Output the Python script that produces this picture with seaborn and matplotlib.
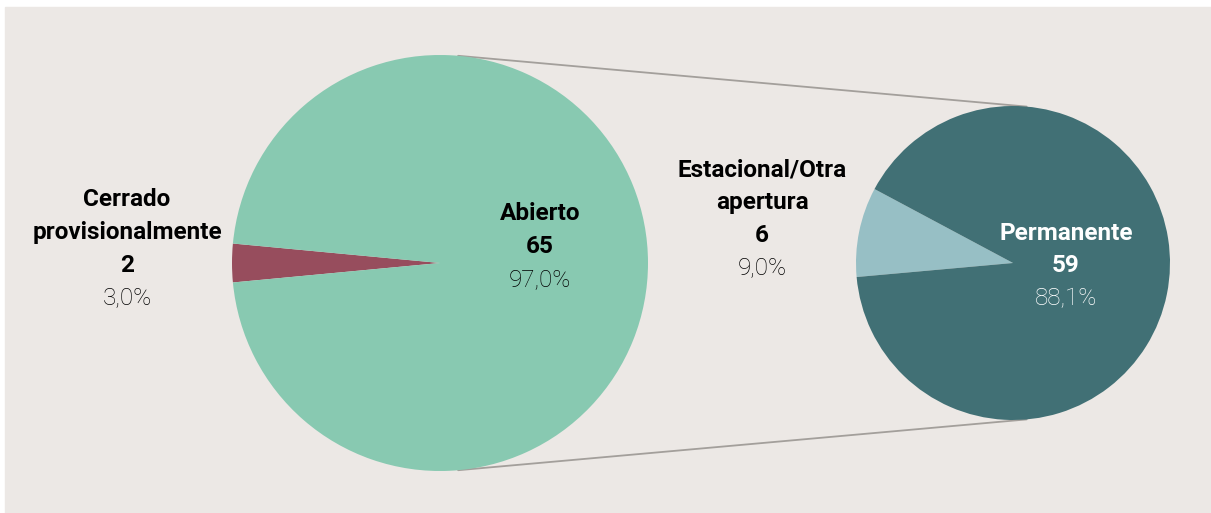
import matplotlib
matplotlib.use("Agg")
import matplotlib.pyplot as plt
import seaborn as sns
import numpy as np
from matplotlib import font_manager

# ---- data ----
main_labels = ["Cerrado\nprovisionalmente", "Abierto"]
main_values = [2, 65]
sub_labels = ["Estacional/Otra\napertura", "Permanente"]
sub_values = [6, 59]

main_colors = ["#974D5D", "#88C9B1"]
sub_colors = ["#97BFC5", "#417075"]
bg = "#ECE8E5"

sns.set_theme(style="white")
avail = {f.name for f in font_manager.fontManager.ttflist}
fam = [f for f in ["Liberation Sans Narrow", "Roboto", "DejaVu Sans"] if f in avail]
plt.rcParams["font.family"] = fam

W, H = 1211, 513
fig = plt.figure(figsize=(W / 100, H / 100), dpi=100)
fig.patch.set_facecolor("white")
ax = fig.add_axes([0, 0, 1, 1])
ax.add_patch(plt.Rectangle((5, -5), W + 10, H - 2, color=bg, zorder=0))

total = sum(main_values)

# main pie
r1, c1 = 208, (440, 250)
span_small = main_values[0] / total * 360
ax.pie(main_values, colors=main_colors, center=c1, radius=r1,
       startangle=180 - span_small / 2, counterclock=True,
       wedgeprops=dict(linewidth=0), frame=True)

# sub pie
r2, c2 = 157, (1013, 250)
ax.pie(sub_values, colors=sub_colors, center=c2, radius=r2,
       startangle=151.9, counterclock=True,
       wedgeprops=dict(linewidth=0), frame=True)
ax.set_xlim(0, W)
ax.set_ylim(0, H)
ax.set_aspect("equal")
ax.axis("off")

# connector lines
a = np.deg2rad(85)
for s in (1, -1):
    ax.plot([c1[0] + r1 * np.cos(a), c2[0] + r2 * np.cos(a)],
            [c1[1] + s * r1 * np.sin(a), c2[1] + s * r2 * np.sin(a)],
            color="#A39F9B", lw=1.3, zorder=0.5)

def pct(v):
    return f"{v / total * 100:.1f}%".replace(".", ",")

def label(x, y_top, name, val, color):
    y = y_top
    for ln in name.split("\n"):
        ax.text(x, H - y, ln, ha="center", va="center", fontsize=17.5,
                fontweight="bold", color=color)
        y += 32.5
    ax.text(x, H - y, str(val), ha="center", va="center", fontsize=17.5,
            fontweight="bold", color=color)
    y += 33
    ax.text(x, H - y, pct(val), ha="center", va="center", fontsize=17.5,
            fontweight="light", color=color)

label(127, 200, main_labels[0], main_values[0], "#000000")
label(540, 214, main_labels[1], main_values[1], "#000000")
label(762, 170, sub_labels[0], sub_values[0], "#000000")
label(1066, 233, sub_labels[1], sub_values[1], "white")

fig.savefig("out.png", dpi=100, facecolor="white")
